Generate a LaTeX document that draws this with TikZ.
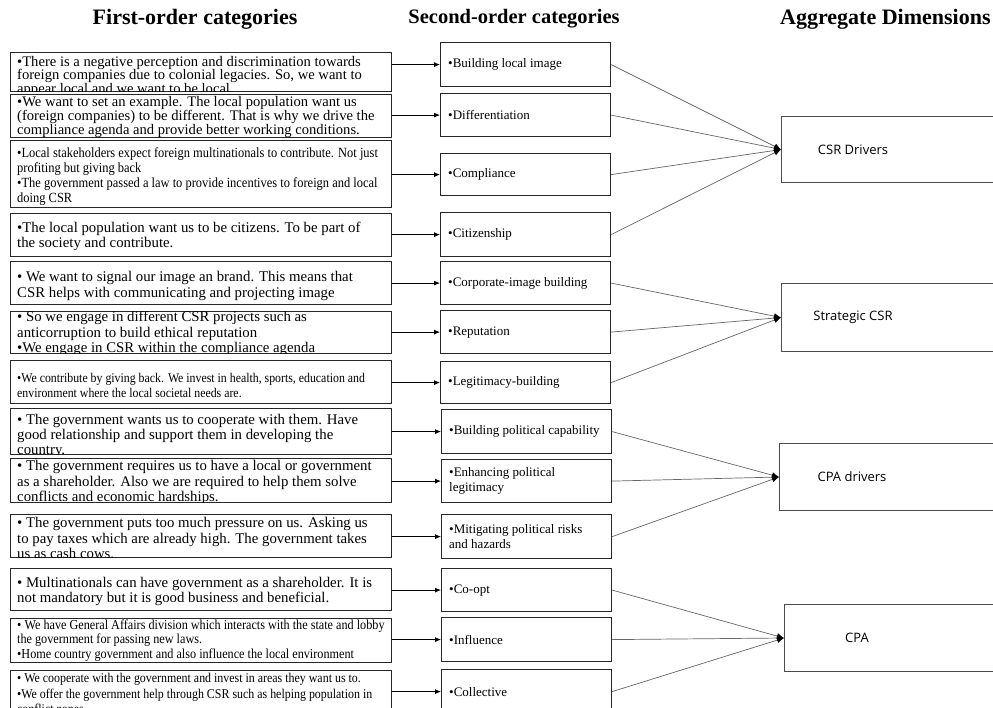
\documentclass[tikz,border=0pt]{standalone}
\usepackage{fontspec}
\setmainfont{Liberation Serif}
\newfontfamily\condfont[FakeStretch=0.89]{Liberation Serif}
\newfontfamily\dimfont{Open Sans}
\newcommand\tightlines{\lineskiplimit=-20pt\relax}
\usetikzlibrary{arrows.meta}
\begin{document}
\begin{tikzpicture}[x=1pt,y=-1pt,
  hdr/.style={font=\fontsize{20.5}{24}\selectfont\bfseries, inner sep=0pt},
  lbox/.style={draw=black!85, line width=1.2pt, rectangle, inner sep=0pt, anchor=north west, minimum width=381pt},
  mbox/.style={draw=black!85, line width=1.2pt, rectangle, inner sep=0pt, anchor=north west, minimum width=170pt},
  rbox/.style={draw=black!70, line width=1pt, rectangle, inner sep=0pt, anchor=north west, minimum width=240pt},
  ltxt/.style={anchor=west, align=left, inner sep=0pt, yshift=-2pt, font=\fontsize{14.8}{15.3}\selectfont},
  ctxt/.style={anchor=west, align=left, inner sep=0pt, yshift=-1pt, font=\condfont\fontsize{14}{14.7}\selectfont},
  mtxt/.style={anchor=west, align=left, inner sep=0pt, font=\fontsize{13}{15}\selectfont},
  rtxt/.style={inner sep=0pt, font=\dimfont\fontsize{13}{15}\selectfont},
  feed/.style={draw=black, line width=0.8pt, -{Latex[length=6pt,width=5pt]}},
  link/.style={draw=black!60, line width=0.7pt, -{Latex[length=7pt,width=6pt,color=black]}},
]
\useasboundingbox (0,0) rectangle (993,708);
\fill[white] (0,0) rectangle (993,708);
\clip (0,0) rectangle (993,708);

% headers
\node[hdr, font=\fontsize{22}{24}\selectfont\bfseries] (H1) at (195,19) {First-order categories};
\node[hdr] (H2) at (514,19) {Second-order categories};
\node[hdr, anchor=west, font=\fontsize{22}{24}\selectfont\bfseries] (H3) at (780,19) {Aggregate Dimensions};

% left boxes
\node[lbox, minimum height=39pt] (L1) at (10,52) {};
\node[lbox, minimum height=43pt] (L2) at (10,94) {};
\node[lbox, minimum height=67pt] (L3) at (10,140) {};
\node[lbox, minimum height=43pt] (L4) at (10,213) {};
\node[lbox, minimum height=43pt] (L5) at (10,261) {};
\node[lbox, minimum height=42pt] (L6) at (10,311) {};
\node[lbox, minimum height=43pt] (L7) at (10,360) {};
\node[lbox, minimum height=46pt] (L8) at (10,408) {};
\node[lbox, minimum height=44pt] (L9) at (10,458) {};
\node[lbox, minimum height=43pt] (L10) at (10,514) {};
\node[lbox, minimum height=42pt] (L11) at (10,568) {};
\node[lbox, minimum height=44pt] (L12) at (10,618) {};
\node[lbox, minimum height=46pt] (L13) at (10,670) {};

% left texts (clipped to their boxes)
\begin{scope}\clip ([shift={(1pt,1pt)}]L1.south west) rectangle ([shift={(-1pt,-1pt)}]L1.north east);
\node[ltxt, yshift=-2.3pt, font=\fontsize{14.6}{13.5}\selectfont\tightlines] (T1) at ([xshift=7pt]L1.west) {•There is a negative perception and discrimination towards\\foreign companies due to colonial legacies. So, we want to\\appear local and we want to be local.};
\end{scope}
\begin{scope}\clip ([shift={(1pt,1pt)}]L2.south west) rectangle ([shift={(-1pt,-1pt)}]L2.north east);
\node[ltxt, yshift=1pt, font=\fontsize{14.6}{14.4}\selectfont\tightlines] (T2) at ([xshift=7pt]L2.west) {•We want to set an example. The local population want us\\(foreign companies) to be different. That is why we drive the\\compliance agenda and provide better working conditions.};
\end{scope}
\begin{scope}\clip ([shift={(1pt,1pt)}]L3.south west) rectangle ([shift={(-1pt,-1pt)}]L3.north east);
\node[ctxt, yshift=-1.5pt] (T3) at ([xshift=7pt]L3.west) {•Local stakeholders expect foreign multinationals to contribute. Not just\\profiting but giving back\\•The government passed a law to provide incentives to foreign and local\\doing CSR};
\end{scope}
\begin{scope}\clip ([shift={(1pt,1pt)}]L4.south west) rectangle ([shift={(-1pt,-1pt)}]L4.north east);
\node[ltxt, yshift=1pt] (T4) at ([xshift=7pt]L4.west) {•The local population want us to be citizens. To be part of\\the society and contribute.};
\end{scope}
\begin{scope}\clip ([shift={(1pt,1pt)}]L5.south west) rectangle ([shift={(-1pt,-1pt)}]L5.north east);
\node[ltxt, yshift=-1pt] (T5) at ([xshift=7pt]L5.west) {• We want to signal our image an brand. This means that\\CSR helps with communicating and projecting image};
\end{scope}
\begin{scope}\clip ([shift={(1pt,1pt)}]L6.south west) rectangle ([shift={(-1pt,-1pt)}]L6.north east);
\node[ltxt, yshift=1pt] (T6) at ([xshift=7pt]L6.west) {• So we engage in different CSR projects such as\\anticorruption to build ethical reputation\\•We engage in CSR within the compliance agenda};
\end{scope}
\begin{scope}\clip ([shift={(1pt,1pt)}]L7.south west) rectangle ([shift={(-1pt,-1pt)}]L7.north east);
\node[ctxt, yshift=-2pt, font=\condfont\fontsize{13.3}{15}\selectfont] (T7) at ([xshift=7pt]L7.west) {•We contribute by giving back. We invest in health, sports, education and\\environment where the local societal needs are.};
\end{scope}
\begin{scope}\clip ([shift={(1pt,1pt)}]L8.south west) rectangle ([shift={(-1pt,-1pt)}]L8.north east);
\node[ltxt, yshift=-2.5pt] (T8) at ([xshift=7pt]L8.west) {• The government wants us to cooperate with them. Have\\good relationship and support them in developing the\\country.};
\end{scope}
\begin{scope}\clip ([shift={(1pt,1pt)}]L9.south west) rectangle ([shift={(-1pt,-1pt)}]L9.north east);
\node[ltxt] (T9) at ([xshift=7pt]L9.west) {• The government requires us to have a local or government\\as a shareholder. Also we are required to help them solve\\conflicts and economic hardships.};
\end{scope}
\begin{scope}\clip ([shift={(1pt,1pt)}]L10.south west) rectangle ([shift={(-1pt,-1pt)}]L10.north east);
\node[ltxt] (T10) at ([xshift=7pt]L10.west) {• The government puts too much pressure on us. Asking us\\to pay taxes which are already high. The government takes\\us as cash cows.};
\end{scope}
\begin{scope}\clip ([shift={(1pt,1pt)}]L11.south west) rectangle ([shift={(-1pt,-1pt)}]L11.north east);
\node[ltxt] (T11) at ([xshift=7pt]L11.west) {• Multinationals can have government as a shareholder. It is\\not mandatory but it is good business and beneficial.};
\end{scope}
\begin{scope}\clip ([shift={(1pt,1pt)}]L12.south west) rectangle ([shift={(-1pt,-1pt)}]L12.north east);
\node[ctxt, yshift=1pt, font=\condfont\fontsize{13.7}{14.2}\selectfont] (T12) at ([xshift=7pt]L12.west) {• We have General Affairs division which interacts with the state and lobby\\the government for passing new laws.\\•Home country government and also influence the local environment};
\end{scope}
\begin{scope}\clip ([shift={(1pt,1pt)}]L13.south west) rectangle ([shift={(-1pt,-1pt)}]L13.north east);
\node[ctxt, yshift=1pt, font=\condfont\fontsize{13.4}{15.5}\selectfont] (T13) at ([xshift=7pt]L13.west) {• We cooperate with the government and invest in areas they want us to.\\•We offer the government help through CSR such as helping population in\\conflict zones.};
\end{scope}

% middle boxes
\node[mbox, minimum height=44pt] (M1) at (440,42) {};
\node[mbox, minimum height=43pt] (M2) at (440,93) {};
\node[mbox, minimum height=42pt] (M3) at (440,153) {};
\node[mbox, minimum height=44pt] (M4) at (440,212) {};
\node[mbox, minimum height=43pt] (M5) at (440,261) {};
\node[mbox, minimum height=43pt] (M6) at (440,310) {};
\node[mbox, minimum height=42pt] (M7) at (440,361) {};
\node[mbox, minimum height=44pt] (M8) at (441,409) {};
\node[mbox, minimum height=43pt] (M9) at (441,459) {};
\node[mbox, minimum height=44pt] (M10) at (441,514) {};
\node[mbox, minimum height=43pt] (M11) at (441,568) {};
\node[mbox, minimum height=44pt] (M12) at (441,617) {};
\node[mbox, minimum height=44pt] (M13) at (441,669) {};

\node[mtxt] (S1) at ([xshift=8pt]M1.west) {•Building local image};
\node[mtxt] (S2) at ([xshift=8pt]M2.west) {•Differentiation};
\node[mtxt] (S3) at ([xshift=8pt]M3.west) {•Compliance};
\node[mtxt] (S4) at ([xshift=8pt]M4.west) {•Citizenship};
\node[mtxt] (S5) at ([xshift=8pt]M5.west) {•Corporate-image building};
\node[mtxt] (S6) at ([xshift=8pt]M6.west) {•Reputation};
\node[mtxt] (S7) at ([xshift=8pt]M7.west) {•Legitimacy-building};
\node[mtxt] (S8) at ([xshift=8pt]M8.west) {•Building political capability};
\node[mtxt] (S9) at ([xshift=8pt]M9.west) {•Enhancing political\\legitimacy};
\node[mtxt] (S10) at ([xshift=8pt]M10.west) {•Mitigating political risks\\and hazards};
\node[mtxt] (S11) at ([xshift=8pt]M11.west) {•Co-opt};
\node[mtxt] (S12) at ([xshift=8pt]M12.west) {•Influence};
\node[mtxt] (S13) at ([xshift=8pt]M13.west) {•Collective};

% right boxes
\node[rbox, minimum height=66pt] (R1) at (781,116) {};
\node[rbox, minimum height=68pt] (R2) at (781,283) {};
\node[rbox, minimum height=67pt] (R3) at (779,443) {};
\node[rbox, minimum height=67pt] (R4) at (784,604) {};
\node[rtxt] (D1) at ([xshift=72pt]R1.west) {CSR Drivers};
\node[rtxt] (D2) at ([xshift=72pt]R2.west) {Strategic CSR};
\node[rtxt] (D3) at ([xshift=73pt]R3.west) {CPA drivers};
\node[rtxt] (D4) at ([xshift=73pt]R4.west) {CPA};

% feed arrows
\foreach \i in {1,...,13}{
  \draw[feed] (L\i.east |- M\i.west) -- (M\i.west);
}

% links to aggregate dimensions
\foreach \i in {1,...,4}{ \draw[link] (M\i.east) -- (R1.west); }
\foreach \i in {5,6,7}{ \draw[link] (M\i.east) -- (R2.west); }
\foreach \i in {8,9,10}{ \draw[link] (M\i.east) -- (R3.west); }
\foreach \i in {11,12,13}{ \draw[link] (M\i.east) -- (R4.west); }
\end{tikzpicture}
\end{document}
